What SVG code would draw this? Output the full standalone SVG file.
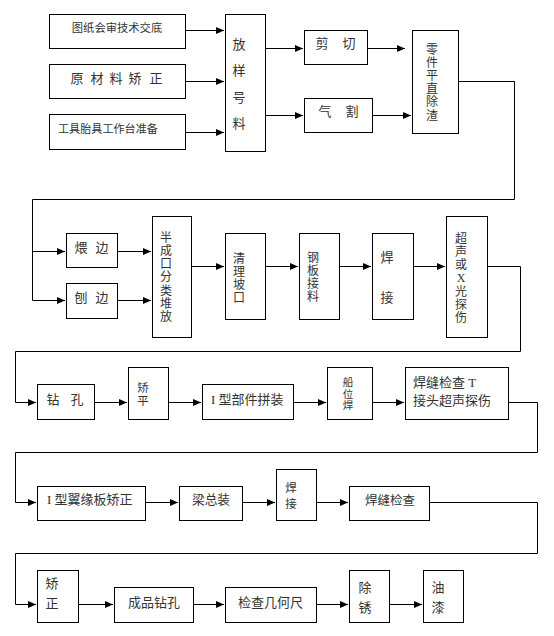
<svg xmlns="http://www.w3.org/2000/svg" width="554" height="636" viewBox="0 0 554 636">
<defs>
<marker id="ah" markerWidth="9" markerHeight="8" refX="8" refY="3.5" orient="auto" markerUnits="userSpaceOnUse">
<path d="M0,0 L8,3.5 L0,7 z" fill="#000"/>
</marker>
<style>
rect{fill:#fff;stroke:#000;stroke-width:1}
text{font-family:"Liberation Serif","Noto Sans CJK SC",serif;font-size:13px;fill:#333}
.m{text-anchor:middle}
.s{font-size:11.5px}
.v{font-size:12px}
.t{font-size:10.5px}
.c path{fill:none;stroke:#000;stroke-width:1}
.c .a{marker-end:url(#ah)}
</style>
</defs>
<rect x="0" y="0" width="554" height="636" style="fill:#fff;stroke:none"/>

<g class="c" id="connectors">
<path class="a" d="M185,30.5 H224"/>
<path class="a" d="M185,81.5 H224"/>
<path class="a" d="M182,132.5 H224"/>
<path class="a" d="M265,48.5 H303"/>
<path class="a" d="M265,115.5 H303"/>
<path class="a" d="M367,48.5 H405"/>
<path class="a" d="M372,115.5 H411"/>
<path class="a" d="M458,81.5 H514.5 V199.5 H32.5 V300.5 H65"/>
<path class="a" d="M32.5,251.5 H65"/>
<path class="a" d="M117,251.5 H151"/>
<path class="a" d="M117,300.5 H151"/>
<path class="a" d="M191,266.5 H224"/>
<path class="a" d="M265,266.5 H298"/>
<path class="a" d="M339,266.5 H371"/>
<path class="a" d="M413,266.5 H445"/>
<path class="a" d="M487,266.5 H520.5 V351.5 H15.5 V402.5 H36"/>
<path class="a" d="M94,402.5 H127"/>
<path class="a" d="M168,402.5 H201"/>
<path class="a" d="M293,402.5 H326"/>
<path class="a" d="M372,402.5 H404"/>
<path class="a" d="M508,402.5 H537.5 V452.5 H15.5 V502.5 H36"/>
<path class="a" d="M145,502.5 H178"/>
<path class="a" d="M242,502.5 H275"/>
<path class="a" d="M316,502.5 H348"/>
<path class="a" d="M429,502.5 H537.5 V553.5 H15.5 V604.5 H36"/>
<path class="a" d="M78,604.5 H113"/>
<path class="a" d="M193,604.5 H224"/>
<path class="a" d="M316,604.5 H348"/>
<path class="a" d="M389,604.5 H422"/>
</g>

<g id="n1"><rect x="49.5" y="14.5" width="136" height="34"/><text class="m" x="117" y="31.5" style="font-size:11.3px">图纸会审技术交底</text></g>
<g id="n2"><rect x="49.5" y="64.5" width="136" height="34"/><text class="m" x="77 97 116 135 156" y="83">原材料矫正</text></g>
<g id="n3"><rect x="49.5" y="114.5" width="136" height="35"/><text x="58" y="132.5" style="font-size:11.1px">工具胎具工作台准备</text></g>
<g id="n4"><rect x="225.5" y="14.5" width="40" height="137"/><text class="m" x="239" y="48.5">放<tspan x="239" dy="26.5">样</tspan><tspan x="239" dy="26.5">号</tspan><tspan x="239" dy="26.5">料</tspan></text></g>
<g id="n5"><rect x="304.5" y="30.5" width="63" height="34"/><text class="m" x="322 349" y="48">剪切</text></g>
<g id="n6"><rect x="304.5" y="98.5" width="68" height="34"/><text class="m" x="325 352" y="115.5">气割</text></g>
<g id="n7"><rect x="412.5" y="30.5" width="46" height="103"/><text class="m v" x="432" y="53.5">零<tspan x="432" dy="13.2">件</tspan><tspan x="432" dy="13.2">平</tspan><tspan x="432" dy="13.2">直</tspan><tspan x="432" dy="13.2">除</tspan><tspan x="432" dy="13.2">渣</tspan></text></g>
<g id="n8"><rect x="66.5" y="233.5" width="51" height="34"/><text class="m" x="81 102" y="251.5">煨边</text></g>
<g id="n9"><rect x="66.5" y="283.5" width="51" height="35"/><text class="m" x="81 102" y="302">刨边</text></g>
<g id="n10"><rect x="152.5" y="216.5" width="39" height="121"/><text class="m v" x="166" y="241.5">半<tspan x="166" dy="13.3">成</tspan><tspan x="166" dy="13.3">口</tspan><tspan x="166" dy="13.3">分</tspan><tspan x="166" dy="13.3">类</tspan><tspan x="166" dy="13.3">堆</tspan><tspan x="166" dy="13.3">放</tspan></text></g>
<g id="n11"><rect x="225.5" y="233.5" width="40" height="86"/><text class="m v" x="239" y="262.5">清<tspan x="239" dy="13">理</tspan><tspan x="239" dy="13">坡</tspan><tspan x="239" dy="13">口</tspan></text></g>
<g id="n12"><rect x="299.5" y="233.5" width="40" height="86"/><text class="m v" x="313" y="261.5">钢<tspan x="313" dy="13.3">板</tspan><tspan x="313" dy="13.3">接</tspan><tspan x="313" dy="13.3">料</tspan></text></g>
<g id="n13"><rect x="372.5" y="233.5" width="41" height="86"/><text class="m" x="387" y="261.5">焊<tspan x="387" dy="40">接</tspan></text></g>
<g id="n14"><rect x="446.5" y="216.5" width="41" height="121"/><text class="m v" x="461" y="242.5">超<tspan x="461" dy="13">声</tspan><tspan x="461" dy="13.3">或</tspan><tspan x="461" dy="13.4">X</tspan><tspan x="461" dy="13.3">光</tspan><tspan x="461" dy="13.3">探</tspan><tspan x="461" dy="13.4">伤</tspan></text></g>
<g id="n15"><rect x="37.5" y="384.5" width="57" height="35"/><text class="m" x="53 77" y="404">钻孔</text></g>
<g id="n16"><rect x="128.5" y="367.5" width="40" height="52"/><text class="m s" x="143" y="392">矫<tspan x="143" dy="13">平</tspan></text></g>
<g id="n17"><rect x="202.5" y="384.5" width="91" height="35"/><text x="211" y="403.5">I 型部件拼装</text></g>
<g id="n18"><rect x="327.5" y="367.5" width="45" height="52"/><text class="m t" x="348" y="386">船<tspan x="348" dy="11.5">位</tspan><tspan x="348" dy="11.5">焊</tspan></text></g>
<g id="n19"><rect x="405.5" y="367.5" width="103" height="52"/><text x="413" y="387">焊缝检查 T</text><text x="413" y="404.5">接头超声探伤</text></g>
<g id="n20"><rect x="37.5" y="486.5" width="108" height="34"/><text x="47" y="504">I 型翼缘板矫正</text></g>
<g id="n21"><rect x="179.5" y="486.5" width="63" height="34"/><text class="m" x="211" y="504" style="font-size:12.7px">梁总装</text></g>
<g id="n22"><rect x="276.5" y="469.5" width="40" height="51"/><text class="m s" x="291" y="491.5">焊<tspan x="291" dy="16">接</tspan></text></g>
<g id="n23"><rect x="349.5" y="486.5" width="80" height="34"/><text class="m" x="390" y="504.5" style="font-size:12.5px">焊缝检查</text></g>
<g id="n24"><rect x="37.5" y="570.5" width="41" height="52"/><text class="m" x="52" y="587.5">矫<tspan x="52" dy="20">正</tspan></text></g>
<g id="n25"><rect x="114.5" y="587.5" width="79" height="35"/><text class="m" x="154" y="606.5">成品钻孔</text></g>
<g id="n26"><rect x="225.5" y="587.5" width="91" height="35"/><text class="m" x="270.5" y="606.5">检查几何尺</text></g>
<g id="n27"><rect x="349.5" y="570.5" width="40" height="52"/><text class="m" x="365" y="591.5">除<tspan x="365" dy="20">锈</tspan></text></g>
<g id="n28"><rect x="423.5" y="570.5" width="40" height="52"/><text class="m" x="438" y="591.5">油<tspan x="438" dy="20">漆</tspan></text></g>
</svg>
